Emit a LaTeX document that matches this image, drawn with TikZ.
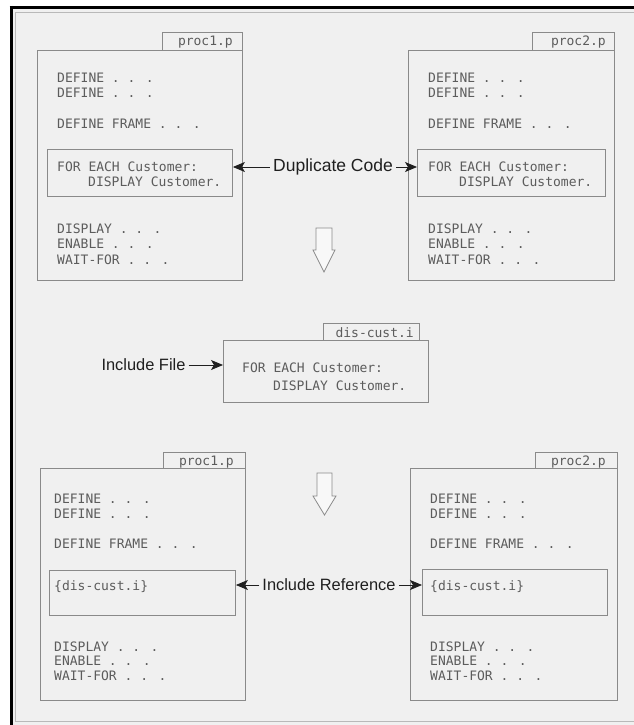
\documentclass[tikz,border=0pt]{standalone}
\usepackage{fontspec}
\setmainfont{Liberation Sans}
\newfontfamily\codefont{DejaVu Sans Mono}
\usetikzlibrary{arrows.meta}
\definecolor{bg}{HTML}{F0F0F0}
\definecolor{boxline}{HTML}{8A8A8A}
\definecolor{codetext}{HTML}{5C5C5C}
\tikzset{
  rect/.style 2 args={draw=boxline, line width=0.9pt, minimum width=#1, minimum height=#2, anchor=north west, inner sep=0pt},
  code/.style={anchor=base west, inner sep=0pt, font=\codefont\fontsize{13}{15}\selectfont, text=codetext},
  tabtext/.style={anchor=base east, inner sep=0pt, font=\codefont\fontsize{13}{15}\selectfont, text=codetext},
  lbl/.style={inner ysep=0pt, inner xsep=3pt, font=\fontsize{16.4}{19}\selectfont, text=black!88},
  pointer/.style={-{Stealth[length=12pt,width=10pt,inset=3pt]}, line width=0.8pt, draw=black!88},
  hollow/.style={draw=boxline, fill=white!55!bg, line width=0.8pt, line join=miter}
}
\begin{document}
\begin{tikzpicture}[x=1pt,y=-1pt]
\useasboundingbox (0,0) rectangle (634,725);
\fill[white] (0,0) rectangle (634,725);
\fill[bg] (11,7) rectangle (634,725);
% frame
\draw[line width=3pt, black] (9.5,7.5) -- (634,7.5);
\draw[line width=3pt, black] (11,6) -- (11,725);
\draw[gray!55, line width=1pt] (634,12.5) -- (15,12.5) -- (15,721.5) -- (634,721.5);

% ---------- top left: proc1.p
\node[rect={80pt}{18pt}] (tab1) at (162,32) {};
\node[rect={205pt}{230pt}] (box1) at (37,50) {};
\node[rect={185pt}{47pt}] (in1) at (47,149) {};
\node[tabtext] (t1) at (233,46) {proc1.p};
\node[code] (a1) at (57,82) {DEFINE . . .};
\node[code] (a2) at (57,97) {DEFINE . . .};
\node[code] (a3) at (57,128) {DEFINE FRAME . . .};
\node[code] (a4) at (57,171) {FOR EACH Customer:};
\node[code] (a5) at (88,186) {DISPLAY Customer.};
\node[code] (a6) at (57,233) {DISPLAY . . .};
\node[code] (a7) at (57,248.5) {ENABLE . . .};
\node[code] (a8) at (57,264) {WAIT-FOR . . .};

% ---------- top right: proc2.p
\node[rect={82pt}{18pt}] (tab2) at (532,32) {};
\node[rect={206pt}{230pt}] (box2) at (408,50) {};
\node[rect={188pt}{47pt}] (in2) at (417,149) {};
\node[tabtext] (t2) at (606,46) {proc2.p};
\node[code] (b1) at (428,82) {DEFINE . . .};
\node[code] (b2) at (428,97) {DEFINE . . .};
\node[code] (b3) at (428,128) {DEFINE FRAME . . .};
\node[code] (b4) at (428,171) {FOR EACH Customer:};
\node[code] (b5) at (459,186) {DISPLAY Customer.};
\node[code] (b6) at (428,233) {DISPLAY . . .};
\node[code] (b7) at (428,248.5) {ENABLE . . .};
\node[code] (b8) at (428,264) {WAIT-FOR . . .};

% ---------- middle: dis-cust.i
\node[rect={96pt}{17pt}] (tab3) at (323,323) {};
\node[rect={205pt}{62pt}] (mid) at (223,340) {};
\node[tabtext] (t3) at (414,337) {dis-cust.i};
\node[code] (c1) at (242,372) {FOR EACH Customer:};
\node[code] (c2) at (273,390) {DISPLAY Customer.};

% ---------- bottom left: proc1.p
\node[rect={82pt}{16pt}] (tab4) at (163,452) {};
\node[rect={205pt}{232pt}] (box4) at (40,468) {};
\node[rect={186pt}{45pt}] (in3) at (49,570) {};
\node[tabtext] (t4) at (234,465) {proc1.p};
\node[code] (d1) at (54,503) {DEFINE . . .};
\node[code] (d2) at (54,518) {DEFINE . . .};
\node[code] (d3) at (54,548) {DEFINE FRAME . . .};
\node[code] (d4) at (54,590) {\{dis-cust.i\}};
\node[code] (d5) at (54,651) {DISPLAY . . .};
\node[code] (d6) at (54,665.5) {ENABLE . . .};
\node[code] (d7) at (54,680) {WAIT-FOR . . .};

% ---------- bottom right: proc2.p
\node[rect={82pt}{16pt}] (tab5) at (535,452) {};
\node[rect={207pt}{232pt}] (box5) at (410,468) {};
\node[rect={185pt}{46pt}] (in4) at (422,569) {};
\node[tabtext] (t5) at (606,465) {proc2.p};
\node[code] (e1) at (430,503) {DEFINE . . .};
\node[code] (e2) at (430,518) {DEFINE . . .};
\node[code] (e3) at (430,548) {DEFINE FRAME . . .};
\node[code] (e4) at (430,590) {\{dis-cust.i\}};
\node[code] (e5) at (430,651) {DISPLAY . . .};
\node[code] (e6) at (430,665.5) {ENABLE . . .};
\node[code] (e7) at (430,680) {WAIT-FOR . . .};

% ---------- labels and pointers
\node[lbl, font=\fontsize{17.5}{20}\selectfont] (dup) at (333,167) {Duplicate Code};
\node[lbl] (incf) at (143.5,365) {Include File};
\node[lbl] (incr) at (329,585) {Include Reference};
\draw[pointer] (dup.west) -- (dup.west -| in1.east);
\draw[pointer] (dup.east) -- (dup.east -| in2.west);
\draw[pointer] (incf.east) -- (incf.east -| mid.west);
\draw[pointer] (incr.west) -- (incr.west -| in3.east);
\draw[pointer] (incr.east) -- (incr.east -| in4.west);

% ---------- hollow down arrows
\draw[hollow] (316,228) -- (332,228) -- (332,250) -- (335,250) -- (324,272) -- (313,250) -- (316,250) -- cycle;
\draw[hollow] (317,473) -- (332,473) -- (332,496) -- (336,496) -- (324.5,515) -- (313,496) -- (317,496) -- cycle;
\end{tikzpicture}
\end{document}
